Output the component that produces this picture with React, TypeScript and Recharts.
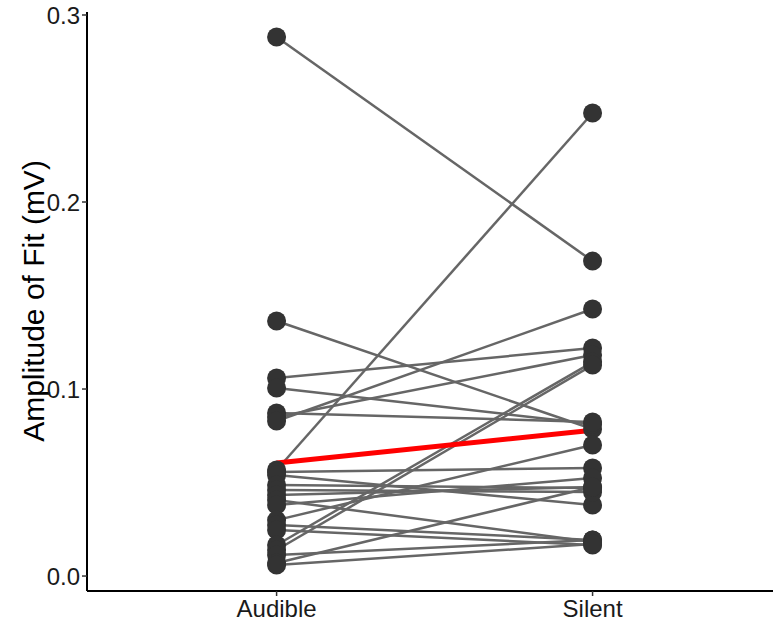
import React from 'react'
import { ComposedChart, Line, Scatter, XAxis, YAxis } from 'recharts'

const conditions = ['Audible', 'Silent']

// amplitude per subject, paired by index
const audible = [
  0.2882, 0.1364, 0.1059, 0.1005, 0.0872, 0.085, 0.0829, 0.0567, 0.0556, 0.054, 0.0487, 0.046,
  0.0433, 0.0406, 0.038, 0.0299, 0.0273, 0.0246, 0.0166, 0.0139, 0.0112, 0.007, 0.0059,
]
const silent = [
  0.1684, 0.0786, 0.1219, 0.0813, 0.0824, 0.1182, 0.1428, 0.2476, 0.0578, 0.038, 0.0471, 0.0449,
  0.0476, 0.0182, 0.0524, 0.0701, 0.0193, 0.0166, 0.1144, 0.1128, 0.0193, 0.0476, 0.0171,
]
const meanLine = [0.0605, 0.078]

const yTicks = [0, 0.1, 0.2, 0.3]

const FONT = '"Liberation Sans", Arial, sans-serif'

const YTitle = () => (
  <text
    x={33}
    y={301}
    transform="rotate(-90 33 301)"
    textAnchor="middle"
    dominantBaseline="central"
    fontSize={30}
    fontFamily={FONT}
    fill="#000"
  >
    Amplitude of Fit (mV)
  </text>
)

export default function App() {
  const pairs = audible.map((a, i) => [
    { x: 1, y: a },
    { x: 2, y: silent[i] },
  ])
  const points = pairs.flat()
  const mean = meanLine.map((v, i) => ({ x: i + 1, y: v }))

  return (
    <div style={{ position: 'absolute', left: 0, top: 0, fontFamily: FONT }}>
      <ComposedChart width={773} height={623} margin={{ top: 12, right: 0, bottom: 0, left: 0 }}>
        <XAxis
          type="number"
          dataKey="x"
          domain={[0.4, 2.571]}
          ticks={[1, 2]}
          tickFormatter={(v: number) => conditions[v - 1]}
          height={32}
          allowDataOverflow
          stroke="#000"
          strokeWidth={2}
          tickSize={5}
          tickMargin={4}
          tick={{ fontSize: 24, fill: '#1a1a1a', fontFamily: FONT }}
          tickLine={{ stroke: '#333', strokeWidth: 1.5 }}
        />
        <YAxis
          type="number"
          dataKey="y"
          domain={[-0.008, 0.3016]}
          ticks={yTicks}
          tickFormatter={(v: number) => v.toFixed(1)}
          width={87}
          allowDataOverflow
          stroke="#000"
          strokeWidth={2}
          tickSize={5}
          tickMargin={2}
          tick={{ fontSize: 24, fill: '#1a1a1a', fontFamily: FONT }}
          tickLine={{ stroke: '#333', strokeWidth: 1.5 }}
          label={<YTitle />}
        />
        {pairs.map((d, i) => (
          <Line
            key={i}
            data={d}
            dataKey="y"
            stroke="#666666"
            strokeWidth={2.5}
            dot={false}
            activeDot={false}
            isAnimationActive={false}
          />
        ))}
        <Scatter data={points} dataKey="y" fill="#333333" isAnimationActive={false}
          shape={(p: any) => <circle cx={p.cx} cy={p.cy} r={9.5} fill="#333333" />} />
        <Line
          data={mean}
          dataKey="y"
          stroke="#ff0000"
          strokeWidth={5}
          dot={false}
          activeDot={false}
          isAnimationActive={false}
        />
      </ComposedChart>
    </div>
  )
}
